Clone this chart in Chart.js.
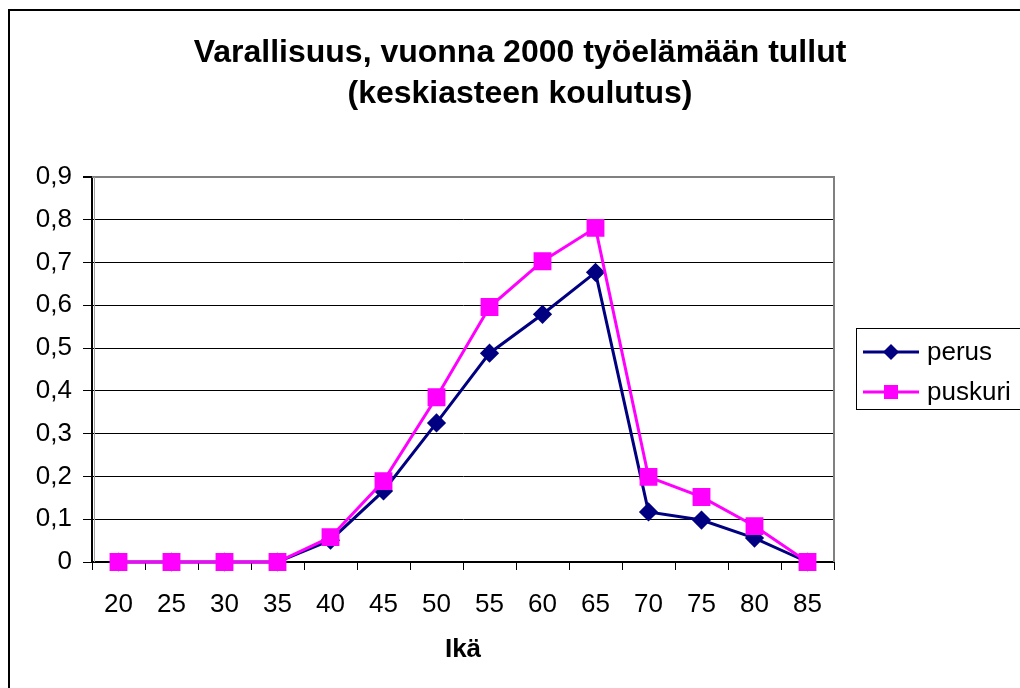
<!DOCTYPE html>
<html>
<head>
<meta charset="utf-8">
<script src="https://cdn.jsdelivr.net/npm/chart.js@4/dist/chart.umd.min.js"></script>
<style>
  html, body { margin: 0; padding: 0; background: #fff; overflow: hidden; }
  #wrap { width: 1020px; height: 688px; }
</style>
</head>
<body>
<div id="wrap"><canvas id="myChart" width="1020" height="688"></canvas></div>
<script>
var ages = ["20", "25", "30", "35", "40", "45", "50", "55", "60", "65", "70", "75", "80", "85"];
var perus = [0, 0, 0, 0, 0.051, 0.166, 0.325, 0.488, 0.579, 0.677, 0.117, 0.098, 0.056, 0];
var puskuri = [0, 0, 0, 0, 0.058, 0.189, 0.385, 0.596, 0.703, 0.781, 0.199, 0.152, 0.084, 0];
var seriesNames = ["perus", "puskuri"];
var seriesColors = ["#000080", "#FF00FF"];

var FONT = "'Liberation Sans', Arial, sans-serif";

// white background + outer frame + gray plot border
var framePlugin = {
  id: 'frame',
  beforeDraw: function(chart) {
    var c = chart.ctx;
    c.save();
    c.fillStyle = '#fff';
    c.fillRect(0, 0, chart.width, chart.height);
    c.strokeStyle = '#000';
    c.lineWidth = 2;
    c.beginPath();
    c.moveTo(9, chart.height + 2);
    c.lineTo(9, 10);
    c.lineTo(chart.width + 2, 10);
    c.stroke();
    c.restore();
  },
  beforeDatasetsDraw: function(chart) {
    var a = chart.chartArea, c = chart.ctx;
    c.save();
    c.strokeStyle = '#808080';
    c.lineWidth = 2;
    c.beginPath();
    c.moveTo(a.left, a.top);
    c.lineTo(a.right, a.top);
    c.lineTo(a.right, a.bottom);
    c.stroke();
    // light shadow next to the value axis
    c.strokeStyle = '#a0a0a0';
    c.lineWidth = 1;
    c.beginPath();
    c.moveTo(a.left + 2.5, a.top);
    c.lineTo(a.left + 2.5, a.bottom);
    c.stroke();
    c.restore();
  },
  afterDraw: function(chart) {
    var c = chart.ctx;
    c.save();
    c.strokeStyle = '#000';
    c.lineWidth = 1;
    c.strokeRect(856.5, 328.5, 200, 81);
    c.font = '26px ' + FONT;
    c.textBaseline = 'middle';
    c.textAlign = 'left';
    for (var i = 0; i < seriesNames.length; i++) {
      var y = 352 + i * 40;
      c.strokeStyle = seriesColors[i];
      c.lineWidth = 3;
      c.beginPath();
      c.moveTo(863, y);
      c.lineTo(919, y);
      c.stroke();
      c.fillStyle = seriesColors[i];
      c.beginPath();
      if (i === 0) {
        c.moveTo(891, y - 8);
        c.lineTo(899, y);
        c.lineTo(891, y + 8);
        c.lineTo(883, y);
        c.closePath();
      } else {
        c.rect(884, y - 7, 14, 14);
      }
      c.fill();
      c.fillStyle = '#000';
      c.fillText(seriesNames[i], 927, y + 1);
    }
    c.restore();
  }
};

var ctx = document.getElementById("myChart").getContext('2d');
var myChart = new Chart(ctx, {
  type: 'line',
  data: {
    labels: ages,
    datasets: [{
      label: seriesNames[0],
      data: perus,
      borderColor: seriesColors[0],
      backgroundColor: seriesColors[0],
      borderWidth: 3,
      pointStyle: 'rectRot',
      pointRadius: 7.5,
      pointHoverRadius: 7.5,
      tension: 0,
      order: 2
    }, {
      label: seriesNames[1],
      data: puskuri,
      borderColor: seriesColors[1],
      backgroundColor: seriesColors[1],
      borderWidth: 3,
      pointStyle: 'rect',
      pointRadius: 10.5,
      pointHoverRadius: 10.5,
      tension: 0,
      order: 1
    }]
  },
  plugins: [framePlugin],
  options: {
    responsive: false,
    animation: false,
    clip: false,
    layout: { padding: { left: 20, right: 0, top: 0, bottom: 0 } },
    plugins: {
      legend: { display: false },
      tooltip: { enabled: false },
      title: {
        display: true,
        text: ["Varallisuus, vuonna 2000 työelämään tullut", "(keskiasteen koulutus)"],
        color: '#000',
        font: { family: FONT, size: 32, weight: 'bold', lineHeight: 1.28 },
        padding: { top: 33, bottom: 62 }
      }
    },
    scales: {
      x: {
        offset: true,
        grid: {
          offset: true,
          drawOnChartArea: false,
          drawTicks: true,
          tickLength: 8,
          tickColor: '#000',
          tickWidth: 1
        },
        border: { display: true, color: '#000', width: 2 },
        ticks: {
          color: '#000',
          font: { family: FONT, size: 26 },
          padding: 19,
          maxRotation: 0,
          autoSkip: false
        },
        title: {
          display: true,
          text: 'Ikä',
          color: '#000',
          font: { family: FONT, size: 26, weight: 'bold' },
          padding: { top: 23, bottom: 23 }
        },
        afterFit: function(s) { s.height = 126; }
      },
      y: {
        min: 0,
        max: 0.9,
        ticks: {
          stepSize: 0.1,
          color: '#000',
          font: { family: FONT, size: 26 },
          padding: 11,
          callback: function(v) {
            if (Math.abs(v) < 1e-9) return '0';
            return v.toFixed(1).replace('.', ',');
          }
        },
        grid: {
          color: function(c) {
            return (c.tick && Math.abs(c.tick.value - 0.9) < 1e-9) ? '#808080' : '#000';
          },
          lineWidth: function(c) {
            return (c.tick && Math.abs(c.tick.value - 0.9) < 1e-9) ? 2 : 1;
          },
          tickColor: '#000',
          tickLength: 9,
          drawTicks: true
        },
        border: { display: true, color: '#000', width: 2 },
        afterFit: function(s) { s.width = 72; }
      },
      yR: {
        type: 'linear',
        position: 'right',
        display: true,
        grid: { display: false },
        border: { display: false },
        ticks: { display: false },
        afterFit: function(s) { s.width = 186; }
      }
    }
  }
});
</script>
</body>
</html>
